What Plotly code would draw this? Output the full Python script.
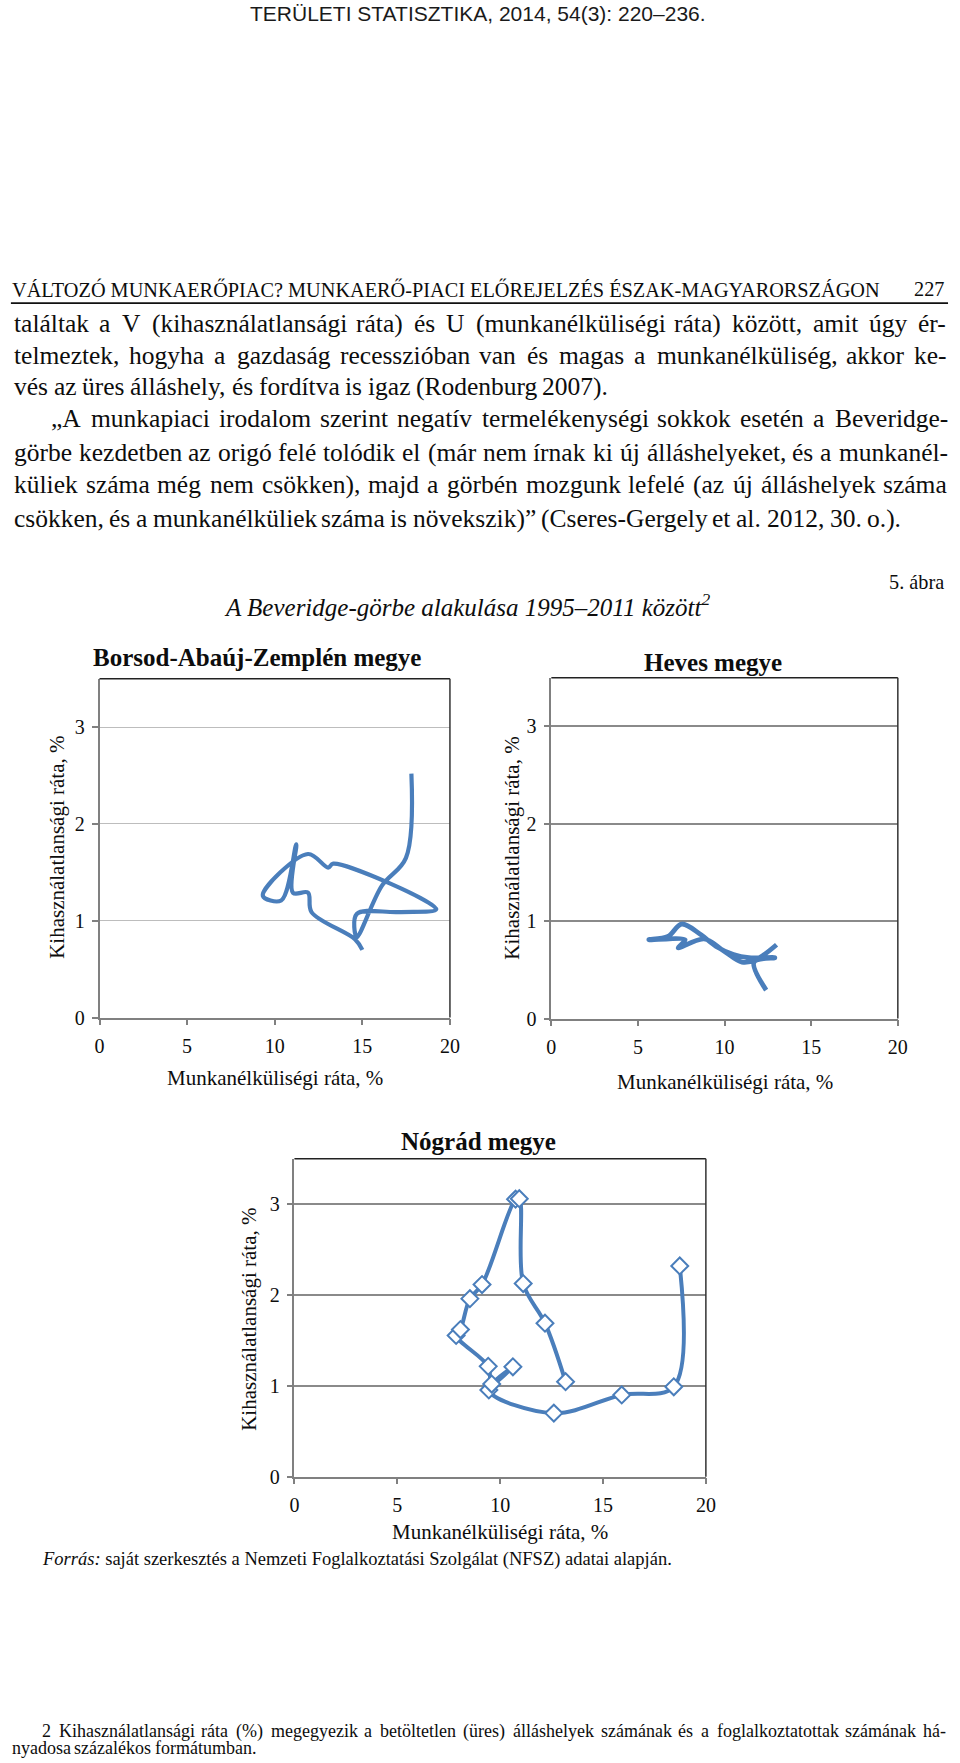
import plotly.graph_objects as go

W, H = 960, 1763

# ---------------- data ----------------
x_ticks = [0, 5, 10, 15, 20]
y_ticks = [0, 1, 2, 3]

borsod_u = [17.80, 17.49, 16.11, 14.68, 14.68, 17.07, 19.22, 13.34, 13.05, 11.90,
            9.32, 10.37, 11.23, 11.04, 11.90, 12.10, 14.58, 15.00]
borsod_v = [2.52, 1.65, 1.36, 0.83, 1.07, 1.09, 1.12, 1.59, 1.55, 1.69,
            1.26, 1.21, 1.79, 1.29, 1.29, 1.09, 0.81, 0.70]

heves_u = [13.00, 11.80, 11.00, 9.91, 8.82, 7.32, 7.72, 5.63, 6.73, 7.52,
           8.62, 9.51, 10.51, 11.40, 12.90, 11.70, 12.40]
heves_v = [0.758, 0.605, 0.581, 0.700, 0.819, 0.727, 0.809, 0.810, 0.843, 0.971,
           0.863, 0.741, 0.659, 0.625, 0.625, 0.581, 0.292]

nograd_u = [18.73, 18.44, 15.91, 12.61, 9.45, 10.62, 9.59, 9.42, 7.86, 8.07,
            8.53, 9.12, 10.75, 10.93, 11.12, 12.18, 13.18]
nograd_v = [2.32, 0.99, 0.90, 0.70, 0.955, 1.21, 1.02, 1.215, 1.555, 1.62,
            1.96, 2.115, 3.055, 3.06, 2.126, 1.69, 1.046]

chart_titles = ["Borsod-Abaúj-Zemplén megye", "Heves megye", "Nógrád megye"]
x_title = "Munkanélküliségi ráta, %"
y_title = "Kihasználatlansági ráta, %"

header_text = "TERÜLETI STATISZTIKA, 2014, 54(3): 220–236."
running_head = "VÁLTOZÓ MUNKAERŐPIAC? MUNKAERŐ-PIACI ELŐREJELZÉS ÉSZAK-MAGYARORSZÁGON"
page_no = "227"
body_lines = [
    "találtak a V (kihasználatlansági ráta) és U (munkanélküliségi ráta) között, amit úgy ér-",
    "telmeztek, hogyha a gazdaság recesszióban van és magas a munkanélküliség, akkor ke-",
    "vés az üres álláshely, és fordítva is igaz (Rodenburg 2007).",
    "„A munkapiaci irodalom szerint negatív termelékenységi sokkok esetén a Beveridge-",
    "görbe kezdetben az origó felé tolódik el (már nem írnak ki új álláshelyeket, és a munkanél-",
    "küliek száma még nem csökken), majd a görbén mozgunk lefelé (az új álláshelyek száma",
    "csökken, és a munkanélküliek száma is növekszik)” (Cseres-Gergely et al. 2012, 30. o.).",
]
figure_no = "5. ábra"
caption = "A Beveridge-görbe alakulása 1995–2011 között<sup>2</sup>"
source_text = "<i>Forrás:</i> saját szerkesztés a Nemzeti Foglalkoztatási Szolgálat (NFSZ) adatai alapján."
footnote_lines = [
    "2 Kihasználatlansági ráta (%) megegyezik a betöltetlen (üres) álláshelyek számának és a foglalkoztatottak számának há-",
    "nyadosa százalékos formátumban.",
]

# ---------------- helpers ----------------
SERIF = "Liberation Serif, Times New Roman, serif"
SANS = "Liberation Sans, Arial, sans-serif"
BLUE = "#4a7ebb"
TXT = "#0d0d0d"


def px(x):
    return x / W


def py(y):
    return 1 - y / H


TW = {' ': 250, '!': 333, '%': 833, '(': 333, ')': 333, ',': 250, '-': 333, '.': 250,
      ':': 278, '?': 444, '„': 444, '”': 444, '–': 500}
for d in '0123456789':
    TW[d] = 500
TW.update(dict(A=722, B=667, C=667, D=722, E=611, F=556, G=722, H=722, I=333, J=389, K=722,
               L=611, M=889, N=722, O=722, P=556, Q=722, R=667, S=556, T=611, U=722, V=722,
               W=944, X=722, Y=722, Z=611))
TW.update(dict(a=444, b=500, c=444, d=500, e=444, f=333, g=500, h=500, i=278, j=278, k=500,
               l=278, m=778, n=500, o=500, p=500, q=500, r=333, s=389, t=278, u=500, v=500,
               w=722, x=500, y=500, z=444))
TW.update({'á': 444, 'é': 444, 'í': 278, 'ó': 500, 'ö': 500, 'ő': 500, 'ú': 500, 'ü': 500,
           'ű': 500, 'Á': 722, 'É': 611, 'Í': 333, 'Ó': 722, 'Ö': 722, 'Ő': 722, 'Ú': 722,
           'Ü': 722, 'Ű': 722})


def tw(s, size):
    return sum(TW.get(c, 500) for c in s) * size / 1000.0


annotations = []


def text(t, x, y, size, family=SERIF, xanchor="center", yanchor="middle", angle=0, color=TXT):
    annotations.append(dict(text=t, x=px(x), y=py(y), xref="paper", yref="paper",
                            xanchor=xanchor, yanchor=yanchor, showarrow=False,
                            textangle=angle, borderpad=0,
                            font=dict(family=family, size=size, color=color)))


def line_words(line, x0, x1, yc, size, justify):
    words = line.split(" ")
    widths = [tw(w, size) for w in words]
    if justify and len(words) > 1:
        gap = (x1 - x0 - sum(widths)) / (len(words) - 1)
    else:
        gap = 250 * size / 1000.0
    x = x0
    for w, wd in zip(words, widths):
        text(w, x, yc, size, xanchor="left")
        x += wd + gap


# ---------------- page text ----------------
text(header_text, 480, 14, 21, family=SANS, color="#1a1a1a")
text(running_head, 6, 291, 20.3, xanchor="left")
text(page_no, 955, 291, 20.3, xanchor="right")

body_y = [326, 357.5, 389, 421.5, 455, 488, 521.6]
body_x0 = [8, 8, 8, 46, 8, 8, 8]
body_just = [True, True, False, True, True, True, False]
for ln, yc, x0, j in zip(body_lines, body_y, body_x0, body_just):
    line_words(ln, x0, 955, yc, 25.5, j)

text(figure_no, 955, 586, 20.3, xanchor="right")
text("<i>" + caption + "</i>", 469, 609, 25)

text("<b>" + chart_titles[0] + "</b>", 256, 662, 25)
text("<b>" + chart_titles[1] + "</b>", 719, 667, 25)
text("<b>" + chart_titles[2] + "</b>", 481, 1149, 25)

# axis titles
text(y_title, 52, 853, 21, angle=-90)
text(y_title, 515, 853, 21, angle=-90)
text(y_title, 248, 1328, 21, angle=-90)
text(x_title, 274, 1085, 21)
text(x_title, 731, 1089, 21)
text(x_title, 503, 1542, 21)

text(source_text, 37, 1569, 18.5, xanchor="left")
line_words(footnote_lines[0], 37, 955, 1742, 18, True)
line_words(footnote_lines[1], 6, 955, 1759, 18, False)

# ---------------- figure ----------------
fig = go.Figure()
fig.add_trace(go.Scatter(x=borsod_u, y=borsod_v, mode="lines", xaxis="x", yaxis="y",
                         line=dict(color=BLUE, width=4.2, shape="spline", smoothing=1),
                         showlegend=False, hoverinfo="skip"))
fig.add_trace(go.Scatter(x=heves_u, y=heves_v, mode="lines", xaxis="x2", yaxis="y2",
                         line=dict(color=BLUE, width=4.8, shape="spline", smoothing=1),
                         showlegend=False, hoverinfo="skip"))
fig.add_trace(go.Scatter(x=nograd_u, y=nograd_v, mode="lines+markers", xaxis="x3", yaxis="y3",
                         line=dict(color=BLUE, width=4, shape="spline", smoothing=1),
                         marker=dict(symbol="diamond", size=13, color="white",
                                     line=dict(color=BLUE, width=2)),
                         showlegend=False, hoverinfo="skip"))

frames = [
    # (x_left, x_right, y_top, y_bottom, gridcolor, gridwidth)
    (96.0, 452.0, 683.0, 1024.0, "#bdbdbd", 1),
    (555.0, 907.0, 682.0, 1025.0, "#8a8a8a", 1.6),
    (294.0, 712.0, 1166.0, 1486.0, "#8a8a8a", 1.6),
]

layout_axes = {}
shapes = []
for i, (xl, xr, yt, yb, gc, gw) in enumerate(frames):
    sfx = "" if i == 0 else str(i + 1)
    layout_axes["xaxis" + sfx] = dict(
        domain=[px(xl), px(xr)], range=[0, 20], tickvals=x_ticks, anchor="y" + sfx,
        ticks="outside", ticklen=6, tickwidth=1.5, tickcolor="#808080",
        showline=True, linecolor="#808080", linewidth=1.5, showgrid=False, zeroline=False,
        ticklabelstandoff=4,
        tickfont=dict(family=SERIF, size=20, color=TXT), fixedrange=True)
    layout_axes["yaxis" + sfx] = dict(
        domain=[py(yb), py(yt)], range=[0, 3.5], tickvals=y_ticks, anchor="x" + sfx,
        ticks="outside", ticklen=6, tickwidth=1.5, tickcolor="#808080",
        showline=True, linecolor="#808080", linewidth=1.5, showgrid=True,
        gridcolor=gc, gridwidth=gw, zeroline=False, ticklabelstandoff=3,
        tickfont=dict(family=SERIF, size=20, color=TXT), fixedrange=True)
    xr_ref = "x" + sfx + " domain"
    yr_ref = "y" + sfx + " domain"
    shapes.append(dict(type="line", xref=xr_ref, yref=yr_ref, x0=0, x1=1, y0=1, y1=1,
                       line=dict(color="#222222", width=1.6)))
    shapes.append(dict(type="line", xref=xr_ref, yref=yr_ref, x0=1, x1=1, y0=0, y1=1,
                       line=dict(color="#333333", width=1.5)))

# rule under running head
shapes.append(dict(type="line", xref="paper", yref="paper", x0=px(6), x1=px(958),
                   y0=py(305), y1=py(305), line=dict(color="#111111", width=1.6)))

fig.update_layout(
    width=W, height=H, margin=dict(l=0, r=0, t=0, b=0),
    paper_bgcolor="white", plot_bgcolor="white",
    annotations=annotations, shapes=shapes, showlegend=False,
    **layout_axes,
)

fig.write_html("out.html")
